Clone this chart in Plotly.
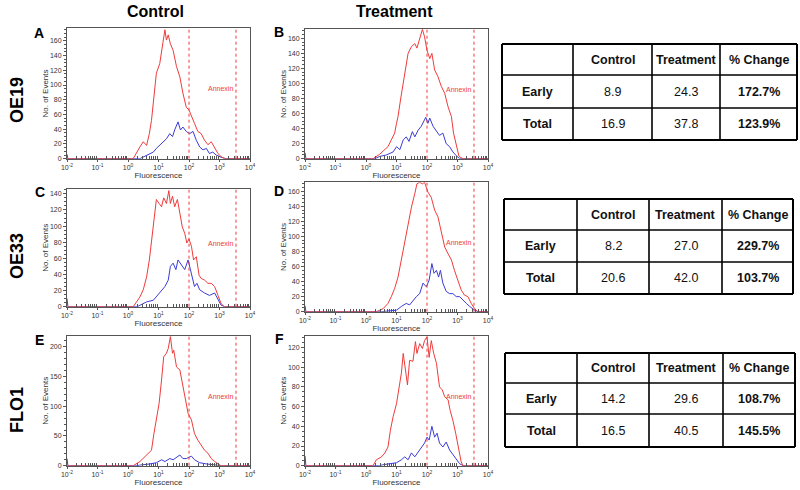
import plotly.graph_objects as go

# ---------------- data (x as log10 fluorescence, y as No. of Events) ----------------
A_red_lx = [-2, 0.17, 0.39, 0.50, 0.61, 0.70, 0.77, 0.83, 0.88, 0.93, 1.04, 1.13, 1.21, 1.26, 1.32, 1.39, 1.48, 1.59,
            1.70, 1.80, 1.91, 2.00, 2.08, 2.18, 2.29, 2.40, 2.51, 2.62, 2.73, 2.84, 2.95, 3.05, 3.16, 4]
A_red_y = [0, 0, 16, 23, 18, 34, 52, 80, 93, 116, 129, 156, 175, 161, 168, 156, 147, 125,
           111, 89, 70, 66, 59, 48, 37, 34, 25, 19, 23, 14, 7, 3, 0, 0]
A_blue_lx = [-2, -1.97, 0.39, 0.61, 0.83, 0.93, 1.04, 1.15, 1.26, 1.37, 1.46, 1.53, 1.64, 1.72, 1.80, 1.91, 2.02,
             2.13, 2.24, 2.35, 2.46, 2.57, 2.67, 2.78, 2.89, 3.05, 3.22, 4]
A_blue_y = [6, 0, 0, 5, 9, 14, 18, 23, 27, 34, 30, 39, 50, 39, 43, 37, 34,
            37, 25, 16, 12, 14, 7, 9, 5, 2, 0, 0]

B_red_lx = [-2, 0.23, 0.45, 0.62, 0.72, 0.83, 0.94, 1.00, 1.05, 1.13, 1.22, 1.30, 1.38, 1.49, 1.60, 1.67, 1.76, 1.85,
            1.92, 2.00, 2.09, 2.16, 2.25, 2.36, 2.47, 2.58, 2.69, 2.80, 2.87, 2.96, 3.05, 3.18, 4]
B_red_y = [0, 0, 6, 12, 16, 25, 34, 47, 56, 78, 100, 122, 140, 149, 153, 147, 158, 172,
           162, 144, 133, 140, 118, 109, 96, 87, 69, 56, 34, 16, 3, 0, 0]
B_blue_lx = [-2, -1.97, 0.30, 0.45, 0.67, 0.89, 1.00, 1.11, 1.22, 1.32, 1.41, 1.52, 1.60, 1.71, 1.81, 1.96, 2.03,
             2.09, 2.20, 2.31, 2.41, 2.52, 2.63, 2.74, 2.85, 2.96, 3.07, 4]
B_blue_y = [8, 0, 0, 3, 5, 9, 16, 12, 25, 29, 23, 36, 29, 38, 43, 55, 47,
            54, 43, 36, 31, 34, 20, 16, 9, 4, 0, 0]

C_red_lx = [-2, 0.17, 0.28, 0.39, 0.50, 0.61, 0.70, 0.77, 0.85, 0.93, 1.02, 1.10, 1.17, 1.26, 1.34, 1.39, 1.46, 1.53,
            1.62, 1.70, 1.78, 1.86, 1.93, 2.00, 2.08, 2.15, 2.24, 2.33, 2.40, 2.51, 2.62, 2.73, 2.84, 2.95, 3.05,
            3.16, 4]
C_red_y = [0, 0, 6, 12, 21, 37, 58, 83, 108, 133, 128, 124, 135, 128, 144, 128, 137, 124,
           133, 114, 99, 91, 79, 84, 75, 58, 62, 39, 35, 33, 29, 29, 25, 14, 4,
           0, 0]
C_blue_lx = [-2, -1.97, 0.30, 0.39, 0.61, 0.83, 1.04, 1.21, 1.32, 1.39, 1.48, 1.57, 1.64, 1.75, 1.86, 1.97, 2.08,
             2.18, 2.26, 2.35, 2.51, 2.67, 2.84, 2.95, 3.05, 3.16, 4]
C_blue_y = [10, 0, 0, 2, 6, 8, 17, 25, 33, 50, 54, 46, 58, 52, 46, 58, 41,
            25, 29, 21, 17, 14, 17, 8, 2, 0, 0]

D_red_lx = [-2, 0.34, 0.56, 0.72, 0.83, 0.94, 1.05, 1.16, 1.27, 1.38, 1.49, 1.60, 1.67, 1.76, 1.85, 1.92, 2.03, 2.14,
            2.25, 2.36, 2.47, 2.58, 2.69, 2.80, 2.90, 3.01, 3.12, 3.23, 3.34, 3.45, 3.56, 3.67, 4]
D_red_y = [0, 0, 4, 11, 20, 31, 46, 69, 95, 117, 139, 157, 170, 172, 170, 172, 159, 152,
           135, 126, 104, 86, 77, 69, 55, 42, 29, 22, 20, 11, 4, 0, 0]
D_blue_lx = [-2, -1.97, 0.50, 0.67, 1.00, 1.16, 1.32, 1.43, 1.54, 1.65, 1.76, 1.87, 1.98, 2.07, 2.16, 2.23, 2.31,
             2.38, 2.44, 2.52, 2.63, 2.74, 2.85, 2.96, 3.07, 3.18, 3.29, 3.40, 3.56, 3.67, 4]
D_blue_y = [8, 0, 0, 1, 2, 7, 11, 9, 15, 20, 24, 38, 33, 42, 64, 51, 55,
            46, 55, 38, 27, 24, 24, 20, 20, 15, 11, 7, 2, 0, 0]

E_red_lx = [-2, 0.17, 0.39, 0.61, 0.77, 0.85, 0.93, 1.02, 1.10, 1.17, 1.26, 1.32, 1.39, 1.46, 1.50, 1.59, 1.70, 1.78,
            1.86, 1.97, 2.08, 2.18, 2.29, 2.40, 2.51, 2.62, 2.73, 2.84, 2.95, 3.05, 4]
E_red_y = [0, 0, 7, 18, 26, 54, 77, 105, 144, 183, 189, 197, 217, 189, 194, 166, 161, 138,
           122, 88, 77, 54, 43, 35, 26, 21, 12, 7, 3, 0, 0]
E_blue_lx = [-2, -1.97, 0.30, 0.39, 0.72, 0.93, 1.10, 1.21, 1.37, 1.48, 1.70, 1.80, 1.91, 2.08, 2.18, 2.35, 2.57,
             2.89, 3.05, 4]
E_blue_y = [12, 0, 0, 1, 3, 5, 10, 7, 12, 10, 18, 12, 12, 16, 10, 5, 3,
            1, 0, 0]

F_red_lx = [-2, 0.23, 0.34, 0.51, 0.62, 0.72, 0.80, 0.89, 1.00, 1.08, 1.16, 1.22, 1.29, 1.36, 1.43, 1.54, 1.62, 1.67,
            1.76, 1.85, 1.92, 2.00, 2.07, 2.14, 2.22, 2.31, 2.41, 2.50, 2.58, 2.69, 2.76, 2.85, 2.94, 3.01, 3.07,
            3.12, 3.18, 4]
F_red_y = [0, 0, 6, 9, 13, 19, 36, 50, 63, 80, 94, 114, 97, 82, 107, 106, 126, 114,
           124, 119, 127, 131, 110, 127, 114, 104, 80, 77, 70, 67, 56, 46, 33, 23, 13,
           4, 0, 0]
F_blue_lx = [-2, -1.97, 0.45, 0.56, 0.78, 1.00, 1.16, 1.27, 1.38, 1.49, 1.60, 1.71, 1.81, 1.92, 2.00, 2.07, 2.16,
             2.25, 2.33, 2.41, 2.52, 2.63, 2.74, 2.85, 2.96, 3.07, 3.18, 4]
F_blue_y = [10, 0, 0, 1, 2, 3, 6, 9, 6, 13, 9, 14, 19, 23, 29, 26, 40,
            29, 33, 23, 19, 24, 16, 11, 6, 2, 0, 0]

y_max = [177, 172, 146, 172, 218, 132]
y_dtick = [20, 20, 20, 20, 50, 20]
y_minor = [5, 5, 5, 5, 10, 5]
panel_letters = ["A", "B", "C", "D", "E", "F"]

gate_low_log = 2.0
gate_high_log = 3.54
decades = [-2, -1, 0, 1, 2, 3, 4]
tick_text = ["10<sup>-2</sup>", "10<sup>-1</sup>", "10<sup>0</sup>", "10<sup>1</sup>",
             "10<sup>2</sup>", "10<sup>3</sup>", "10<sup>4</sup>"]

row_labels = ["OE19", "OE33", "FLO1"]
col_headers = ["Control", "Treatment"]
table_cols = ["", "Control", "Treatment", "% Change"]
table_rows = ["Early", "Total"]
OE19_control = [8.9, 16.9]
OE19_treatment = [24.3, 37.8]
OE19_change = [172.7, 123.9]
OE33_control = [8.2, 20.6]
OE33_treatment = [27.0, 42.0]
OE33_change = [229.7, 103.7]
FLO1_control = [14.2, 16.5]
FLO1_treatment = [29.6, 40.5]
FLO1_change = [108.7, 145.5]

# ---------------- figure ----------------
W, H = 800, 490
RED = "#ee3b3b"
BLUE = "#3b3bd6"
AX = "#555555"
FONT = "Liberation Sans, Arial, sans-serif"

curves = [
    (A_red_lx, A_red_y, A_blue_lx, A_blue_y),
    (B_red_lx, B_red_y, B_blue_lx, B_blue_y),
    (C_red_lx, C_red_y, C_blue_lx, C_blue_y),
    (D_red_lx, D_red_y, D_blue_lx, D_blue_y),
    (E_red_lx, E_red_y, E_blue_lx, E_blue_y),
    (F_red_lx, F_red_y, F_blue_lx, F_blue_y),
]
# pixel boxes (left, right, top, bottom)
boxes = [
    (67, 250, 28.3, 158.7),
    (305, 488, 29.3, 158.7),
    (67, 250, 189, 306.7),
    (305, 488, 182.3, 311.7),
    (67, 250, 336, 465.7),
    (305, 488, 335.7, 465.7),
]
letter_pos = [(39, 33), (279, 32), (40, 192), (279, 191), (39, 340), (279, 339)]

fig = go.Figure()
layout = {}
annotations = []
shapes = []
minor_vals = [m * 10 ** d for d in range(-2, 4) for m in range(2, 10)]

for i, (rlx, ry, blx, by) in enumerate(curves):
    n = i + 1
    xa = "x" if n == 1 else f"x{n}"
    ya = "y" if n == 1 else f"y{n}"
    fig.add_trace(go.Scatter(x=[10 ** v for v in blx], y=by, mode="lines",
                             line=dict(color=BLUE, width=1), xaxis=xa, yaxis=ya,
                             showlegend=False, hoverinfo="skip"))
    fig.add_trace(go.Scatter(x=[10 ** v for v in rlx], y=ry, mode="lines",
                             line=dict(color=RED, width=1), xaxis=xa, yaxis=ya,
                             showlegend=False, hoverinfo="skip"))
    l, r, t, b = boxes[i]
    layout[f"xaxis{n if n > 1 else ''}"] = dict(
        domain=[l / W, r / W], anchor=ya, type="log", range=[-2, 4], automargin=False,
        tickmode="array", tickvals=[10 ** d for d in decades], ticktext=tick_text,
        tickfont=dict(size=7, color="#333", family=FONT),
        ticks="outside", ticklen=2, tickcolor=AX,
        minor=dict(tickmode="array", tickvals=minor_vals, ticks="inside", ticklen=3, tickcolor=AX),
        showline=True, linecolor=AX, linewidth=1, mirror=True,
        showgrid=False, zeroline=False,
        title=dict(text="Fluorescence", font=dict(size=8, color="#333", family=FONT), standoff=0),
    )
    layout[f"yaxis{n if n > 1 else ''}"] = dict(
        domain=[1 - b / H, 1 - t / H], anchor=xa, range=[0, y_max[i]], automargin=False,
        dtick=y_dtick[i], tick0=0,
        tickfont=dict(size=7, color="#333", family=FONT),
        ticks="outside", ticklen=3, tickcolor=AX,
        minor=dict(dtick=y_minor[i], ticks="outside", ticklen=2, tickcolor=AX),
        showline=True, linecolor=AX, linewidth=1, mirror=True,
        showgrid=False, zeroline=False,
        title=dict(text="No. of Events", font=dict(size=8, color="#333", family=FONT), standoff=0),
    )
    for g in (gate_low_log, gate_high_log):
        shapes.append(dict(type="line", xref=xa, yref=f"{ya} domain",
                           x0=10 ** g, x1=10 ** g, y0=0, y1=1,
                           line=dict(color=RED, width=1, dash="dot")))
    annotations.append(dict(text="Annexin", xref=xa, yref=f"{ya} domain", x=gate_high_log - 0.02, y=0.535,
                            xanchor="right", yanchor="middle", showarrow=False,
                            font=dict(size=7, color=RED, family=FONT)))
    lx, ly = letter_pos[i]
    annotations.append(dict(text=f"<b>{panel_letters[i]}</b>", xref="paper", yref="paper",
                            x=lx / W, y=1 - ly / H, xanchor="center", yanchor="middle",
                            showarrow=False, font=dict(size=14, color="black", family=FONT)))

for lab, cy in zip(row_labels, [100, 256, 410]):
    annotations.append(dict(text=f"<b>{lab}</b>", xref="paper", yref="paper", x=17 / W, y=1 - cy / H,
                            textangle=-90, xanchor="center", yanchor="middle", showarrow=False,
                            font=dict(size=18, color="black", family=FONT)))
for lab, cx in zip(col_headers, [155, 394]):
    annotations.append(dict(text=f"<b>{lab}</b>", xref="paper", yref="paper", x=cx / W, y=1 - 11 / H,
                            xanchor="center", yanchor="middle", showarrow=False,
                            font=dict(size=16, color="black", family=FONT)))

# ---------------- tables (drawn as ruled grids with text) ----------------
tables = [
    (OE19_control, OE19_treatment, OE19_change, [502, 573, 652, 720, 797], [44, 75, 108, 140]),
    (OE33_control, OE33_treatment, OE33_change, [504, 577, 649, 722, 793], [199, 230, 262, 294]),
    (FLO1_control, FLO1_treatment, FLO1_change, [505, 577, 649, 723, 795], [353, 383, 414, 447]),
]
for ctrl, trt, chg, xs, ys in tables:
    for k, xv in enumerate(xs):
        shapes.append(dict(type="line", xref="paper", yref="paper", x0=xv / W, x1=xv / W,
                           y0=1 - ys[0] / H, y1=1 - ys[-1] / H,
                           line=dict(color="black", width=2 if k in (0, len(xs) - 1) else 1.6)))
    for k, yv in enumerate(ys):
        shapes.append(dict(type="line", xref="paper", yref="paper", x0=xs[0] / W, x1=xs[-1] / W,
                           y0=1 - yv / H, y1=1 - yv / H,
                           line=dict(color="black", width=2 if k in (0, len(ys) - 1) else 1.6)))
    grid = [
        ["", f"<b>{table_cols[1]}</b>", f"<b>{table_cols[2]}</b>", f"<b>{table_cols[3]}</b>"],
        [f"<b>{table_rows[0]}</b>", f"{ctrl[0]:.1f}", f"{trt[0]:.1f}", f"<b>{chg[0]:.1f}%</b>"],
        [f"<b>{table_rows[1]}</b>", f"{ctrl[1]:.1f}", f"{trt[1]:.1f}", f"<b>{chg[1]:.1f}%</b>"],
    ]
    for ri in range(3):
        for ci in range(4):
            if not grid[ri][ci]:
                continue
            cx = (xs[ci] + xs[ci + 1]) / 2
            cy = (ys[ri] + ys[ri + 1]) / 2
            annotations.append(dict(text=grid[ri][ci], xref="paper", yref="paper",
                                    x=cx / W, y=1 - cy / H, xanchor="center", yanchor="middle",
                                    showarrow=False,
                                    font=dict(size=12.5, color="#111", family=FONT)))

fig.update_layout(width=W, height=H, margin=dict(l=0, r=0, t=0, b=0),
                  paper_bgcolor="white", plot_bgcolor="white",
                  annotations=annotations, shapes=shapes, **layout)
fig.write_html("out.html", config={"displayModeBar": False},
               post_script="document.body.style.margin='0';document.body.style.overflow='hidden';")
